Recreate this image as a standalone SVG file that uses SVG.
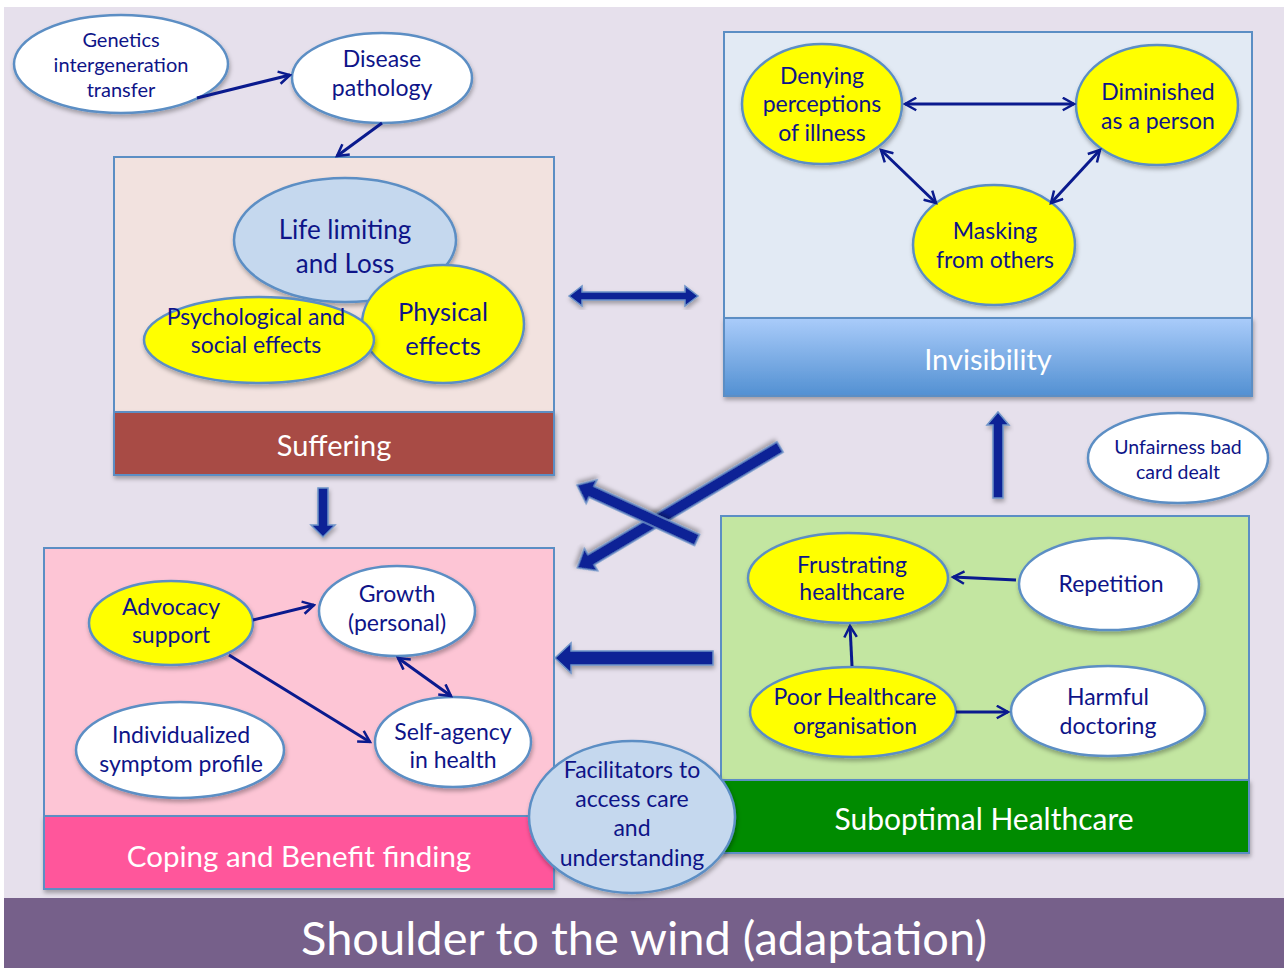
<svg xmlns="http://www.w3.org/2000/svg" width="1284" height="968" viewBox="0 0 1284 968">
<style>
  text { font-family: Lato, "Open Sans", "Liberation Sans", sans-serif; text-anchor: middle; }
  .t { fill: #0E1488; }
  .w { fill: #FFFFFF; }
  .el { stroke: #5B8EC4; stroke-width: 2.5; filter: url(#sh); }
  .box { stroke: #5B8EC4; stroke-width: 2; }
  .yel { fill: #FFFF00; }
  .wht { fill: #FFFFFF; }
  .lb { fill: #C5D8EE; }
  .ln { fill: none; stroke: #0A1A8E; stroke-width: 3; }
  .blk { fill: #0A2496; stroke: #6E93C7; stroke-width: 1.5; filter: url(#sh); }
</style>
<defs>
  <filter id="sh" x="-20%" y="-20%" width="140%" height="140%">
    <feDropShadow dx="1" dy="3" stdDeviation="2" flood-color="#000" flood-opacity="0.3"/>
  </filter>
  <linearGradient id="invg" x1="0" y1="0" x2="0" y2="1">
    <stop offset="0" stop-color="#AACCFA"/>
    <stop offset="1" stop-color="#5290D2"/>
  </linearGradient>
  <marker id="ah" viewBox="0 0 12 12" refX="10" refY="6" markerWidth="5" markerHeight="5" markerUnits="strokeWidth" orient="auto-start-reverse">
    <path d="M1,1 L10,6 L1,11" fill="none" stroke="#0A1A8E" stroke-width="2"/>
  </marker>
</defs>

<rect x="0" y="0" width="1284" height="968" fill="#FFFFFF"/>
<rect x="4" y="7" width="1280" height="891" fill="#E6E0EC"/>
<g id="bottom-bar">
  <rect x="4" y="898" width="1280" height="70" fill="#76608A"/>
  <text x="644" y="955" class="w" font-size="47">Shoulder to the wind (adaptation)</text>
</g>

<g id="suffering">
  <rect x="114" y="157" width="440" height="255" fill="#F2E2DF" class="box"/>
  <rect x="114" y="412" width="440" height="63" fill="#A84B45" class="box" filter="url(#sh)"/>
  <text x="334" y="456" class="w" font-size="29">Suffering</text>
</g>

<g id="invisibility">
  <rect x="724" y="32" width="528" height="286" fill="#E2EAF4" class="box"/>
  <rect x="724" y="318" width="528" height="78" fill="url(#invg)" class="box" filter="url(#sh)"/>
  <text x="988" y="370" class="w" font-size="29">Invisibility</text>
</g>

<g id="suboptimal">
  <rect x="721" y="516" width="528" height="264" fill="#C3E6A1" class="box"/>
  <rect x="721" y="780" width="528" height="73" fill="#008B00" class="box" filter="url(#sh)"/>
  <text x="984" y="830" class="w" font-size="30">Suboptimal Healthcare</text>
</g>

<g id="coping">
  <rect x="44" y="548" width="510" height="268" fill="#FDC5D5" class="box"/>
  <rect x="44" y="816" width="510" height="73" fill="#FF579B" class="box" filter="url(#sh)"/>
  <text x="299" y="867" class="w" font-size="29.5">Coping and Benefit finding</text>
</g>

<g id="genetics">
  <ellipse cx="121" cy="64" rx="107" ry="49" class="el wht"/>
  <text class="t" font-size="20"><tspan x="121" y="47">Genetics</tspan><tspan x="121" y="72">intergeneration</tspan><tspan x="121" y="97">transfer</tspan></text>
</g>
<g id="disease">
  <ellipse cx="382" cy="78" rx="90" ry="45" class="el wht"/>
  <text class="t" font-size="23"><tspan x="382" y="67">Disease</tspan><tspan x="382" y="96">pathology</tspan></text>
</g>

<g id="life-limiting">
  <ellipse cx="345" cy="240" rx="111" ry="62" class="el lb"/>
  <text class="t" font-size="26"><tspan x="345" y="239">Life limiting</tspan><tspan x="345" y="273">and Loss</tspan></text>
</g>
<g id="physical">
  <ellipse cx="443" cy="324" rx="81" ry="59" class="el yel"/>
  <text class="t" font-size="25.5"><tspan x="443" y="321">Physical</tspan><tspan x="443" y="355">effects</tspan></text>
</g>
<g id="psychological">
  <ellipse cx="259" cy="340" rx="115" ry="43" class="el yel"/>
  <text class="t" font-size="23"><tspan x="256" y="325">Psychological and</tspan><tspan x="256" y="353">social effects</tspan></text>
</g>

<g id="denying">
  <ellipse cx="822" cy="104" rx="80" ry="60" class="el yel"/>
  <text class="t" font-size="23"><tspan x="822" y="84">Denying</tspan><tspan x="822" y="112">perceptions</tspan><tspan x="822" y="141">of illness</tspan></text>
</g>
<g id="diminished">
  <ellipse cx="1157" cy="105" rx="81" ry="60" class="el yel"/>
  <text class="t" font-size="23"><tspan x="1158" y="100">Diminished</tspan><tspan x="1158" y="129">as a person</tspan></text>
</g>
<g id="masking">
  <ellipse cx="994" cy="245" rx="81" ry="60" class="el yel"/>
  <text class="t" font-size="23"><tspan x="995" y="239">Masking</tspan><tspan x="995" y="268">from others</tspan></text>
</g>

<g id="unfairness">
  <ellipse cx="1178" cy="458" rx="90" ry="45" class="el wht"/>
  <text class="t" font-size="19.5"><tspan x="1178" y="454">Unfairness bad</tspan><tspan x="1178" y="479">card dealt</tspan></text>
</g>

<g id="frustrating">
  <ellipse cx="848" cy="578" rx="100" ry="45" class="el yel"/>
  <text class="t" font-size="23"><tspan x="852" y="573">Frustrating</tspan><tspan x="852" y="600">healthcare</tspan></text>
</g>
<g id="repetition">
  <ellipse cx="1109" cy="584" rx="90" ry="46" class="el wht"/>
  <text class="t" font-size="23"><tspan x="1111" y="592">Repetition</tspan></text>
</g>
<g id="poor">
  <ellipse cx="853" cy="712" rx="103" ry="45" class="el yel"/>
  <text class="t" font-size="23"><tspan x="855" y="705">Poor Healthcare</tspan><tspan x="855" y="734">organisation</tspan></text>
</g>
<g id="harmful">
  <ellipse cx="1108" cy="711" rx="97" ry="45" class="el wht"/>
  <text class="t" font-size="23"><tspan x="1108" y="705">Harmful</tspan><tspan x="1108" y="734">doctoring</tspan></text>
</g>

<g id="advocacy">
  <ellipse cx="171" cy="623" rx="82" ry="42" class="el yel"/>
  <text class="t" font-size="23"><tspan x="171" y="615">Advocacy</tspan><tspan x="171" y="643">support</tspan></text>
</g>
<g id="growth">
  <ellipse cx="397" cy="611" rx="78" ry="45" class="el wht"/>
  <text class="t" font-size="23"><tspan x="397" y="602">Growth</tspan><tspan x="397" y="631">(personal)</tspan></text>
</g>
<g id="self-agency">
  <ellipse cx="453" cy="742" rx="78" ry="45" class="el wht"/>
  <text class="t" font-size="23"><tspan x="453" y="740">Self-agency</tspan><tspan x="453" y="768">in health</tspan></text>
</g>
<g id="individualized">
  <ellipse cx="180" cy="750" rx="104" ry="48" class="el wht"/>
  <text class="t" font-size="23"><tspan x="181" y="743">Individualized</tspan><tspan x="181" y="772">symptom profile</tspan></text>
</g>

<g id="facilitators">
  <ellipse cx="632" cy="817" rx="103" ry="76" class="el lb"/>
  <text class="t" font-size="23"><tspan x="632" y="778">Facilitators to</tspan><tspan x="632" y="807">access care</tspan><tspan x="632" y="836">and</tspan><tspan x="632" y="866">understanding</tspan></text>
</g>

<g id="connectors">
  <line x1="197" y1="98" x2="290" y2="75" class="ln" marker-end="url(#ah)"/>
  <line x1="382" y1="123" x2="337" y2="156" class="ln" marker-end="url(#ah)"/>
  <line x1="905" y1="104" x2="1074" y2="104" class="ln" marker-start="url(#ah)" marker-end="url(#ah)"/>
  <line x1="881" y1="150" x2="936" y2="203" class="ln" marker-start="url(#ah)" marker-end="url(#ah)"/>
  <line x1="1100" y1="150" x2="1051" y2="203" class="ln" marker-start="url(#ah)" marker-end="url(#ah)"/>
  <line x1="1016" y1="580" x2="953" y2="577" class="ln" marker-end="url(#ah)"/>
  <line x1="852" y1="666" x2="850" y2="626" class="ln" marker-end="url(#ah)"/>
  <line x1="956" y1="712" x2="1008" y2="712" class="ln" marker-end="url(#ah)"/>
  <line x1="253" y1="620" x2="314" y2="605" class="ln" marker-end="url(#ah)"/>
  <line x1="229" y1="655" x2="370" y2="742" class="ln" marker-end="url(#ah)"/>
  <line x1="398" y1="658" x2="451" y2="696" class="ln" marker-start="url(#ah)" marker-end="url(#ah)"/>

  <polygon class="blk" points="569,296 582,286 582,292 685,292 685,286 698,296 685,306 685,300 582,300 582,306"/>
  <polygon class="blk" points="318,488 328,488 328,525 335,525 323,537 311,525 318,525"/>
  <polygon class="blk" points="713,651 571,651 571,643 555,658 571,673 571,665 713,665"/>
  <polygon class="blk" points="993,498 993,425 987,425 998,412 1009,425 1003,425 1003,498"/>
  <polygon class="blk" transform="translate(780,447) rotate(149.2)" points="0,-6 220,-6 220,-13 236,0 220,13 220,6 0,6"/>
  <polygon class="blk" transform="translate(697,540) rotate(204.6)" points="0,-6 116,-6 116,-13 132,0 116,13 116,6 0,6"/>
</g>
</svg>
